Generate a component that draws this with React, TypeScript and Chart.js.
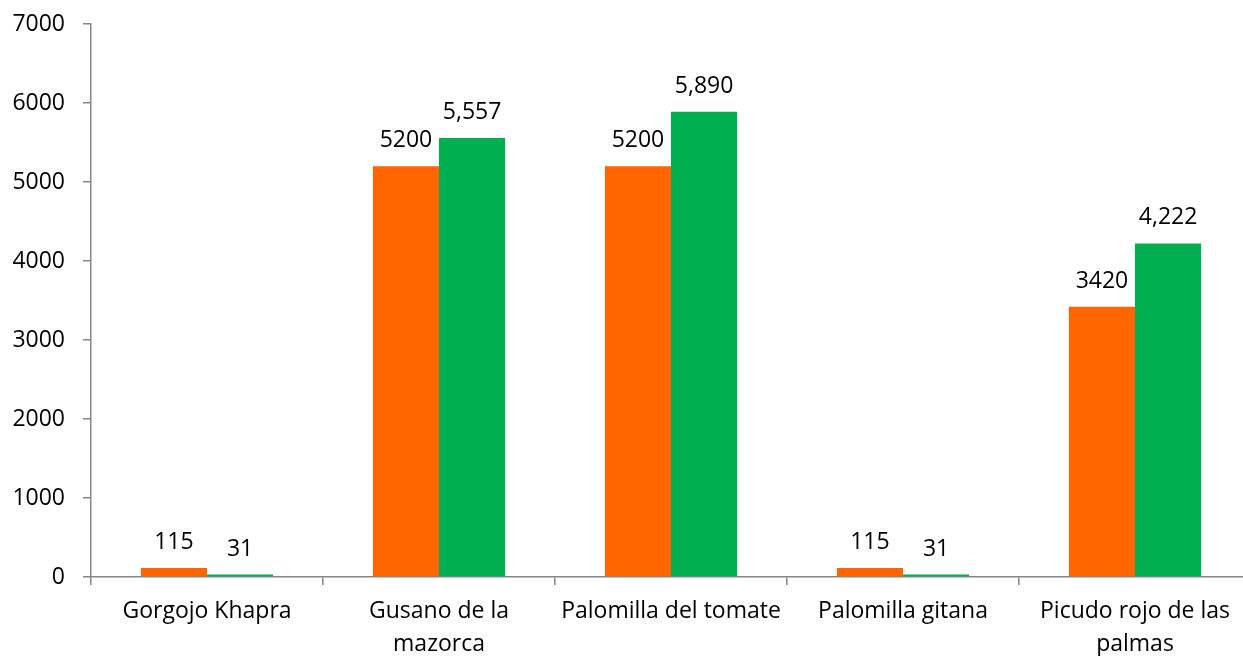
import React, { useEffect, useRef } from "react";
import { Chart, registerables } from "chart.js";

Chart.register(...registerables);

const categories: (string | string[])[] = [
  "Gorgojo Khapra",
  ["Gusano de la", "mazorca"],
  "Palomilla del tomate",
  "Palomilla gitana",
  ["Picudo rojo de las", "palmas"],
];
const orangeValues = [115, 5200, 5200, 115, 3420];
const greenValues = [31, 5557, 5890, 31, 4222];
const yTicks = [0, 1000, 2000, 3000, 4000, 5000, 6000, 7000];

const FONT = "'Open Sans', sans-serif";
const FS = 23;

const valueLabels = {
  id: "valueLabels",
  afterDatasetsDraw(chart: any) {
    const ctx = chart.ctx;
    ctx.save();
    ctx.font = `${FS}px ${FONT}`;
    ctx.fillStyle = "#000000";
    ctx.textAlign = "center";
    ctx.textBaseline = "alphabetic";
    chart.data.datasets.forEach((ds: any, di: number) => {
      const meta = chart.getDatasetMeta(di);
      meta.data.forEach((bar: any, i: number) => {
        const v = ds.data[i];
        const txt = di === 0 ? String(v) : v.toLocaleString("en-US");
        ctx.fillText(txt, bar.x, bar.y - 19);
      });
    });
    ctx.restore();
  },
};

export default function App() {
  const canvasRef = useRef<HTMLCanvasElement | null>(null);

  useEffect(() => {
    if (!canvasRef.current) return;
    const chart = new Chart(canvasRef.current, {
      type: "bar",
      data: {
        labels: categories,
        datasets: [
          {
            label: "Orange",
            data: orangeValues,
            backgroundColor: "#FF6600",
            categoryPercentage: 0.57,
            barPercentage: 1.0,
          },
          {
            label: "Green",
            data: greenValues,
            backgroundColor: "#00B050",
            categoryPercentage: 0.57,
            barPercentage: 1.0,
          },
        ],
      },
      options: {
        animation: false,
        responsive: true,
        maintainAspectRatio: false,
        layout: { padding: { top: 24, left: 0, right: 2, bottom: 0 } },
        plugins: {
          legend: { display: false },
          tooltip: { enabled: false },
        },
        scales: {
          x: {
            offset: true,
            grid: {
              offset: true,
              display: true,
              drawOnChartArea: false,
              drawTicks: true,
              tickLength: 8,
              color: "#868686",
              lineWidth: 1.5,
            },
            border: { display: true, color: "#868686", width: 1.5 },
            ticks: {
              color: "#000000",
              font: { family: FONT, size: FS, lineHeight: 33 / FS },
              padding: 10,
              maxRotation: 0,
              autoSkip: false,
            },
            afterFit: (s: any) => {
              s.height = 79;
            },
          },
          y: {
            min: 0,
            max: 7000,
            afterBuildTicks: (s: any) => {
              s.ticks = yTicks.map((v) => ({ value: v }));
            },
            grid: {
              display: true,
              drawOnChartArea: false,
              drawTicks: true,
              tickLength: 8,
              color: "#868686",
              lineWidth: 1.5,
            },
            border: { display: true, color: "#868686", width: 1.5 },
            ticks: {
              color: "#000000",
              font: { family: FONT, size: FS },
              padding: 18,
              callback: (v: any) => String(v),
            },
            afterFit: (s: any) => {
              s.width = 91;
              s.paddingTop = 0;
              s.paddingBottom = 0;
            },
          },
        },
      },
      plugins: [valueLabels],
    });
    return () => chart.destroy();
  }, []);

  return (
    <div
      style={{
        position: "fixed",
        top: 0,
        left: 0,
        width: 1243,
        height: 656,
        overflow: "hidden",
        background: "#ffffff",
      }}
    >
      <div style={{ position: "relative", width: 1253, height: 656 }}>
        <canvas ref={canvasRef} />
      </div>
    </div>
  );
}
